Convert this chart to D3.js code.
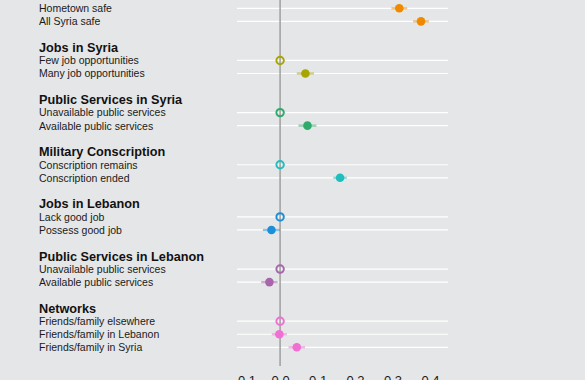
<!DOCTYPE html>
<html>
<head>
<meta charset="utf-8">
<script src="https://cdn.jsdelivr.net/npm/d3@7"></script>
<style>
  html, body { margin: 0; padding: 0; background: #e5e6e7; }
  svg { display: block; }
  text { font-family: "Liberation Sans", Arial, Helvetica, sans-serif; }
</style>
</head>
<body>
<svg id="chart" width="585" height="380"></svg>
<script>
// ---- data ----
const groups = ["", "Jobs in Syria", "Public Services in Syria", "Military Conscription",
  "Jobs in Lebanon", "Public Services in Lebanon", "Networks"];
const levels = [
  ["Hometown not safe", "Hometown safe", "All Syria safe"],
  ["Few job opportunities", "Many job opportunities"],
  ["Unavailable public services", "Available public services"],
  ["Conscription remains", "Conscription ended"],
  ["Lack good job", "Possess good job"],
  ["Unavailable public services", "Available public services"],
  ["Friends/family elsewhere", "Friends/family in Lebanon", "Friends/family in Syria"]
];
const estimates = [
  [0, 0.318, 0.376],
  [0, 0.0675],
  [0, 0.073],
  [0, 0.160],
  [0, -0.023],
  [0, -0.0285],
  [0, -0.002, 0.0445]
];
const errors = [
  [0, 0.021, 0.021],
  [0, 0.023],
  [0, 0.024],
  [0, 0.018],
  [0, 0.023],
  [0, 0.022],
  [0, 0.020, 0.022]
];
const colors = ["#ef8a00", "#a7a600", "#2eaa6b", "#1fbdbd", "#1b8fd8", "#a766ab", "#f06fd2"];
const xTicks = [-0.1, 0.0, 0.1, 0.2, 0.3, 0.4];

// ---- layout rows ----
const rows = [];
let idx = -1;
groups.forEach((g, gi) => {
  rows.push({type: "header", label: g, idx: idx, g: gi});
  levels[gi].forEach((lv, li) => {
    rows.push({type: "item", label: lv, idx: idx + 1 + li, g: gi, li: li,
      est: estimates[gi][li], err: errors[gi][li], ref: li === 0});
  });
  idx += levels[gi].length + 2;
});
const items = rows.filter(r => r.type === "item");
const headers = rows.filter(r => r.type === "header" && r.label !== "");

const svg = d3.select("#chart");
const x = d3.scaleLinear().domain([-0.115, 0.448]).range([237, 448]);
const y = d3.scaleLinear().domain([0, 27]).range([-4.74, 347.3]);
const panelBottom = 366;

svg.append("rect").attr("width", 585).attr("height", 380).attr("fill", "#e5e6e7");

// grid lines
svg.append("g").selectAll("line").data(items).join("line")
  .attr("x1", x.range()[0]).attr("x2", x.range()[1])
  .attr("y1", d => y(d.idx)).attr("y2", d => y(d.idx))
  .attr("stroke", "#ffffff").attr("stroke-width", 1.2);

// zero line
svg.append("line")
  .attr("x1", x(0)).attr("x2", x(0))
  .attr("y1", -10).attr("y2", panelBottom)
  .attr("stroke", "#a8a8a8").attr("stroke-width", 1.7);

// labels
svg.append("g").selectAll("text").data(headers).join("text")
  .attr("x", 39).attr("y", d => y(d.idx)).attr("dy", "0.36em")
  .attr("font-size", "12.7px").attr("font-weight", "bold").attr("fill", "#111")
  .text(d => d.label);
svg.append("g").selectAll("text").data(items).join("text")
  .attr("x", 39).attr("y", d => y(d.idx)).attr("dy", "0.37em")
  .attr("font-size", "10.5px").attr("fill", "#1a1a1a")
  .text(d => d.label);

// error bars
const est = items.filter(d => !d.ref);
svg.append("g").selectAll("line").data(est).join("line")
  .attr("x1", d => x(d.est - d.err)).attr("x2", d => x(d.est + d.err))
  .attr("y1", d => y(d.idx)).attr("y2", d => y(d.idx))
  .attr("stroke", d => colors[d.g]).attr("stroke-opacity", 0.5).attr("stroke-width", 2.2);

// points
svg.append("g").selectAll("circle").data(est).join("circle")
  .attr("cx", d => x(d.est)).attr("cy", d => y(d.idx)).attr("r", 4.3)
  .attr("fill", d => colors[d.g]);
svg.append("g").selectAll("circle").data(items.filter(d => d.ref)).join("circle")
  .attr("cx", d => x(d.est)).attr("cy", d => y(d.idx)).attr("r", 3.7)
  .attr("fill", "none").attr("stroke", d => colors[d.g]).attr("stroke-width", 2);

// axis
const axis = svg.append("g").attr("transform", `translate(0,${panelBottom})`)
  .call(d3.axisBottom(x).tickValues(xTicks).tickFormat(d3.format(".1f")).tickSize(0).tickPadding(10));
axis.select(".domain").remove();
axis.selectAll("text").attr("font-size", "13px").attr("fill", "#1a1a1a")
  .attr("font-family", "\"Liberation Sans\", Arial, sans-serif");
</script>
</body>
</html>
